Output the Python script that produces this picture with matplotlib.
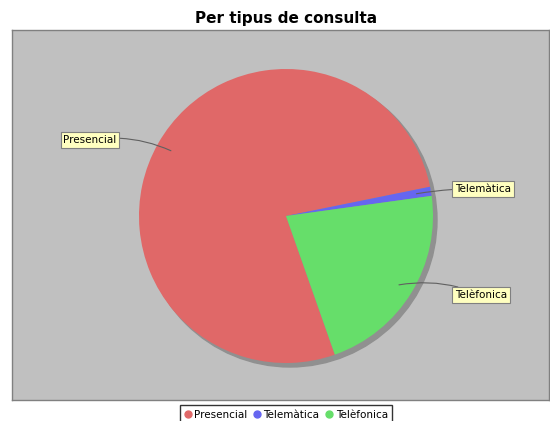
import numpy as np
import matplotlib.pyplot as plt
from matplotlib.patches import Circle
from matplotlib.lines import Line2D

# dades
categories = ['Presencial', 'Telemàtica', 'Telèfonica']
values = [77.2, 1.0, 21.8]
colors = ['#E06868', '#6666F0', '#66DE6A']
title = 'Per tipus de consulta'

W, H = 550, 421
fig = plt.figure(figsize=(W / 100, H / 100), dpi=100)
fig.patch.set_facecolor('white')

# area del grafic en pixels
x0, x1, y0, y1 = 12, 549, 30, 400
ax = fig.add_axes([x0 / W, 1 - y1 / H, (x1 - x0) / W, (y1 - y0) / H])
ax.set_facecolor('#C0C0C0')

cx, cy, r = 286, H - 216, 147

# ombra
ax.add_patch(Circle((cx + 4, cy - 4), r, color='#909090', zorder=1))

wedges, _ = ax.pie(values, colors=colors, startangle=-70.6, counterclock=False,
                   center=(cx, cy), radius=r, frame=True,
                   wedgeprops=dict(linewidth=0, zorder=2))

ax.set_xlim(x0, x1)
ax.set_ylim(H - y1, H - y0)
ax.set_aspect('equal', adjustable='box')
ax.set_xticks([])
ax.set_yticks([])
for s in ax.spines.values():
    s.set_color('#808080')
    s.set_linewidth(1)

# etiquetes
label_pos = [(90, H - 140), (483, H - 189), (481, H - 295)]
rads = [-0.15, 0.05, 0.15]
for w, name, pos, rad in zip(wedges, categories, label_pos, rads):
    ang = np.deg2rad((w.theta1 + w.theta2) / 2)
    px = cx + 0.9 * r * np.cos(ang)
    py = cy + 0.9 * r * np.sin(ang)
    ax.annotate(name, xy=(px, py), xytext=pos, fontsize=7.5,
                ha='center', va='center', zorder=5,
                bbox=dict(boxstyle='square,pad=0.25', fc='#FFFFC0', ec='#808080', lw=0.8),
                arrowprops=dict(arrowstyle='-', color='#606060', lw=0.8,
                                connectionstyle='arc3,rad=%s' % rad, shrinkA=0, shrinkB=0))

fig.text(286 / W, 1 - 19 / H, title, ha='center', va='center',
         fontsize=11, fontweight='bold')

handles = [Line2D([], [], marker='o', linestyle='', markersize=5,
                  markerfacecolor=c, markeredgecolor=c) for c in colors]
leg = fig.legend(handles, categories, loc='upper center',
                 bbox_to_anchor=(286 / W, 1 - 405 / H), ncol=3, fontsize=7.5,
                 frameon=True, fancybox=False, handlelength=0.7, handletextpad=0.25,
                 columnspacing=0.6, borderpad=0.45, borderaxespad=0)
leg.get_frame().set_edgecolor('black')
leg.get_frame().set_linewidth(1)

fig.savefig('out.png', dpi=100)
